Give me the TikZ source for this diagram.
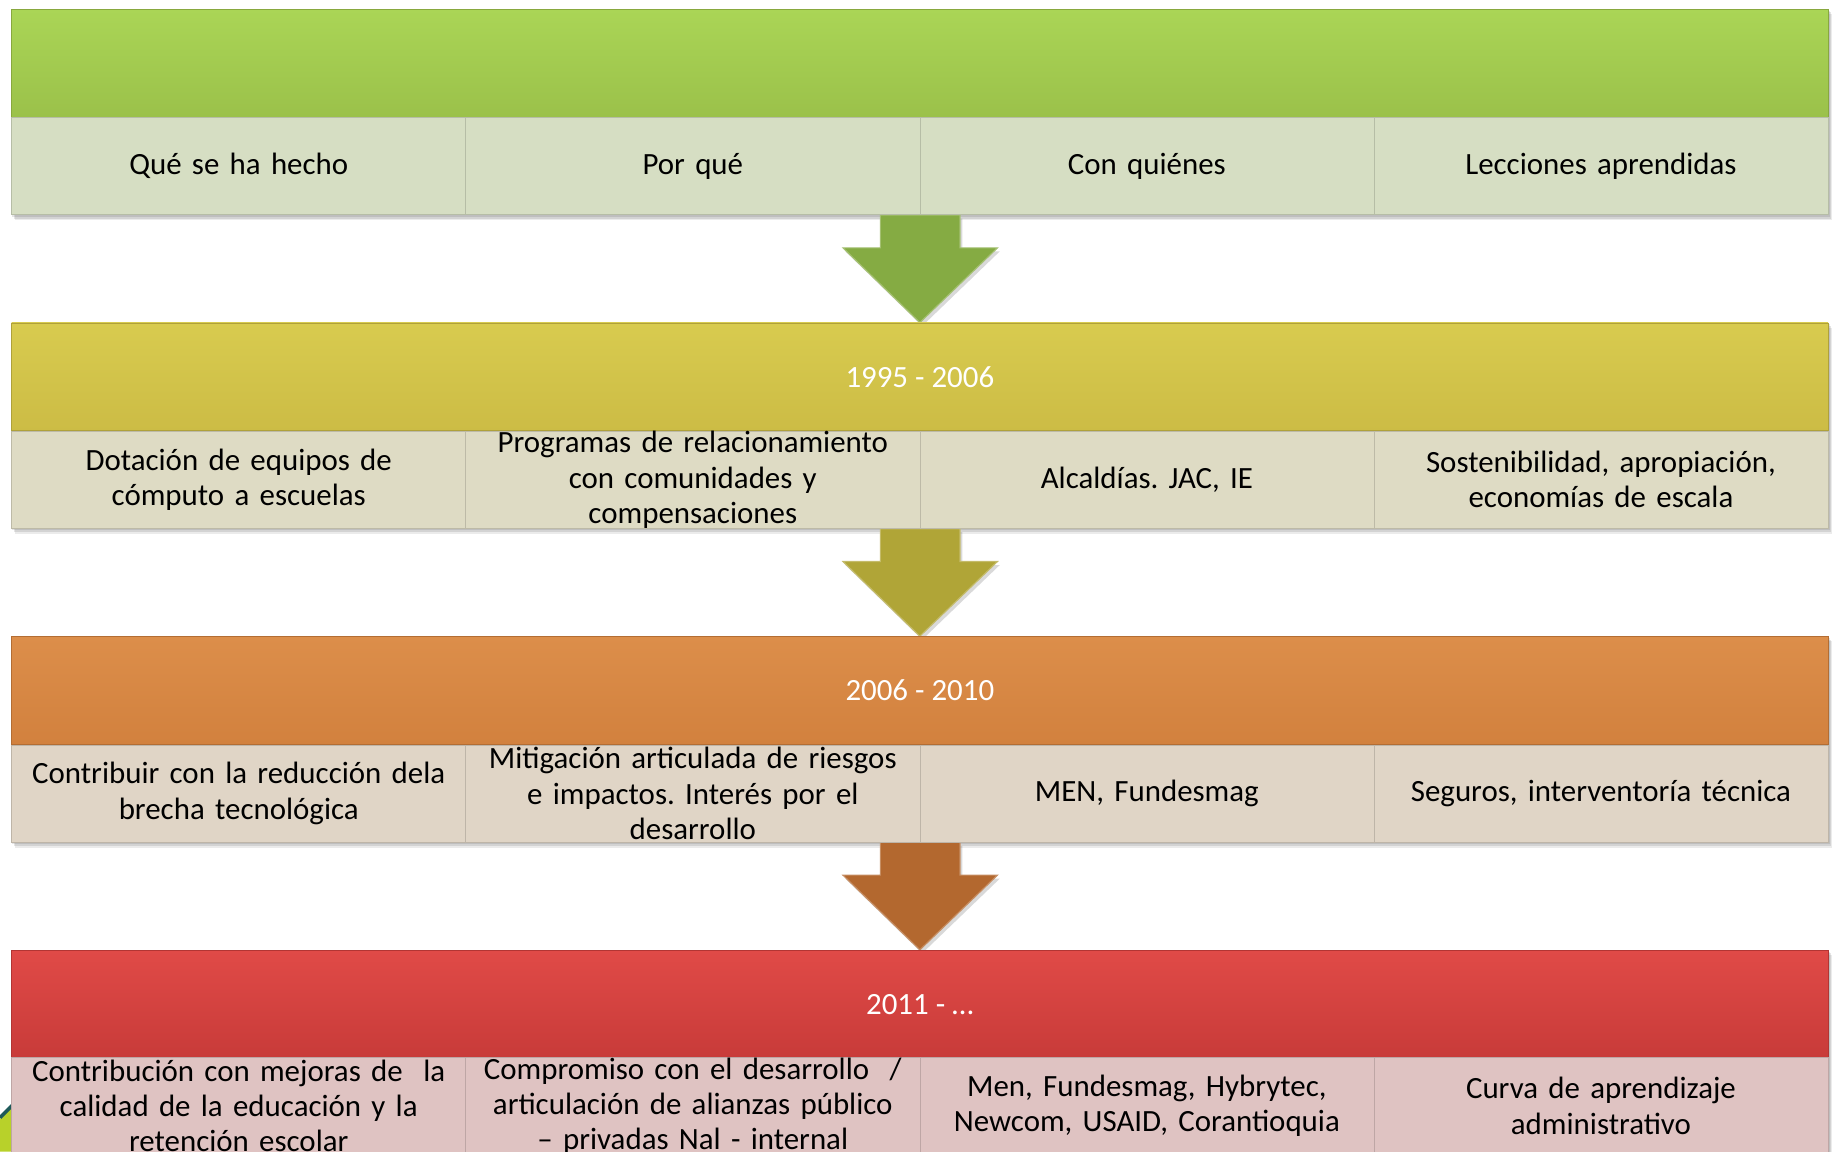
\documentclass[tikz,border=0pt]{standalone}
\usepackage{fontspec}
\setmainfont{Carlito}
\frenchspacing
\usetikzlibrary{calc}
\pgfdeclarelayer{background}
\pgfsetlayers{background,main}
\definecolor{gTop}{HTML}{AAD556}
\definecolor{gBot}{HTML}{9BC14A}
\definecolor{gLine}{HTML}{88A83E}
\definecolor{gCell}{HTML}{D6DEC3}
\definecolor{yTop}{HTML}{D8CB4F}
\definecolor{yBot}{HTML}{CCBC45}
\definecolor{yLine}{HTML}{AFA13A}
\definecolor{yCell}{HTML}{DEDBC4}
\definecolor{oTop}{HTML}{DC8E4A}
\definecolor{oBot}{HTML}{D2813E}
\definecolor{oLine}{HTML}{B36D33}
\definecolor{oCell}{HTML}{E0D5C6}
\definecolor{rTop}{HTML}{E04A47}
\definecolor{rBot}{HTML}{C83B39}
\definecolor{rLine}{HTML}{B23533}
\definecolor{rCell}{HTML}{DFC3C2}
\definecolor{aG}{HTML}{85AB43}
\definecolor{aY}{HTML}{B0A537}
\definecolor{aO}{HTML}{B3682F}
\definecolor{decoY}{HTML}{B8D12A}
\definecolor{decoT}{HTML}{1F5A5A}
\newcommand\flowarrow[3]{%
  \fill[black,opacity=.15] ($(#1)+(-32,3)$) -- ($(#1)+(-32,31)$) -- ($(#1)+(-64,31)$) -- ($(#2)+(2,3)$) -- ($(#1)+(68,31)$) -- ($(#1)+(36,31)$) -- ($(#1)+(36,3)$) -- cycle;
  \filldraw[fill=#3, draw=#3!75!white, line width=1pt, line join=miter]
    ($(#1)+(-34,0)$) -- ($(#1)+(-34,28)$) -- ($(#1)+(-66,28)$) -- (#2) --
    ($(#1)+(66,28)$) -- ($(#1)+(34,28)$) -- ($(#1)+(34,0)$) -- cycle;}
\newcommand\bandshadow[2]{%
  \fill[black,opacity=.10] ($(#1)+(1,1.5)$) rectangle ($(#2)+(1,1.5)$);
  \fill[black,opacity=.10] ($(#1)+(2,3)$) rectangle ($(#2)+(2,3)$);
  \fill[black,opacity=.08] ($(#1)+(3,4.5)$) rectangle ($(#2)+(3,4.5)$);}
\begin{document}
\begin{tikzpicture}[x=1pt,y=-1pt,
  font=\fontsize{26.4}{30}\selectfont,
  band/.style={minimum width=1552pt, minimum height=92pt, inner sep=0pt, text=white, line width=0.8pt},
  cell/.style={minimum width=388pt, minimum height=83pt, inner sep=0pt, text width=386pt, align=center, text=black, line width=0.6pt},
]
\useasboundingbox (0,0) rectangle (1568,984);

% decoration at lower left
\fill[decoY] (0,956) -- (11,944) -- (11,984) -- (0,984) -- cycle;
\draw[decoT, line width=3pt] (0,955) -- (11,944);

% band 1
\node[band, top color=gTop, bottom color=gBot, draw=gLine] (b1) at (786,54) {};
\node[cell, fill=gCell, draw=gCell!85!black] (c11) at (204,142) {Qué se ha hecho};
\node[cell, fill=gCell, draw=gCell!85!black] (c12) at (592,142) {Por qué};
\node[cell, fill=gCell, draw=gCell!85!black] (c13) at (980,142) {Con quiénes};
\node[cell, fill=gCell, draw=gCell!85!black] (c14) at (1368,142) {Lecciones aprendidas};

% band 2
\node[band, top color=yTop, bottom color=yBot, draw=yLine] (b2) at (786,322) {1995 - 2006};
\node[cell, fill=yCell, draw=yCell!85!black] (c21) at (204,410) {Dotación de equipos de\\ cómputo a escuelas};
\node[cell, fill=yCell, draw=yCell!85!black] (c22) at (592,410) {Programas de relacionamiento\\ con comunidades y\\ compensaciones};
\node[cell, fill=yCell, draw=yCell!85!black] (c23) at (980,410) {Alcaldías. JAC, IE};
\node[cell, fill=yCell, draw=yCell!85!black] (c24) at (1368,410) {Sostenibilidad, apropiación,\\ economías de escala};

% band 3
\node[band, top color=oTop, bottom color=oBot, draw=oLine] (b3) at (786,590) {2006 - 2010};
\node[cell, fill=oCell, draw=oCell!85!black] (c31) at (204,678) {Contribuir con la reducción dela\\ brecha tecnológica};
\node[cell, fill=oCell, draw=oCell!85!black] (c32) at (592,678) {Mitigación articulada de riesgos\\ e impactos. Interés por el\\ desarrollo};
\node[cell, fill=oCell, draw=oCell!85!black] (c33) at (980,678) {MEN, Fundesmag};
\node[cell, fill=oCell, draw=oCell!85!black] (c34) at (1368,678) {Seguros, interventoría técnica};

% band 4
\node[band, top color=rTop, bottom color=rBot, draw=rLine] (b4) at (786,858) {2011 - …};
\node[cell, fill=rCell, draw=rCell!85!black] (c41) at (204,945) {Contribución con mejoras de\ \ la\\ calidad de la educación y la\\ retención escolar};
\node[cell, fill=rCell, draw=rCell!85!black] (c42) at (592,945) {Compromiso con el desarrollo\ \ /\\ articulación de alianzas público\\ – privadas Nal - internal};
\node[cell, fill=rCell, draw=rCell!85!black] (c43) at (980,945) {Men, Fundesmag, Hybrytec,\\ Newcom, USAID, Corantioquia};
\node[cell, fill=rCell, draw=rCell!85!black] (c44) at (1368,945) {Curva de aprendizaje\\ administrativo};

\begin{pgfonlayer}{background}
  \bandshadow{b1.north west}{c14.south east}
  \bandshadow{b2.north west}{c24.south east}
  \bandshadow{b3.north west}{c34.south east}
  \bandshadow{b4.north west}{c44.south east}
  \flowarrow{c12.south east}{b2.north}{aG}
  \flowarrow{c22.south east}{b3.north}{aY}
  \flowarrow{c32.south east}{b4.north}{aO}
\end{pgfonlayer}
\end{tikzpicture}
\end{document}
